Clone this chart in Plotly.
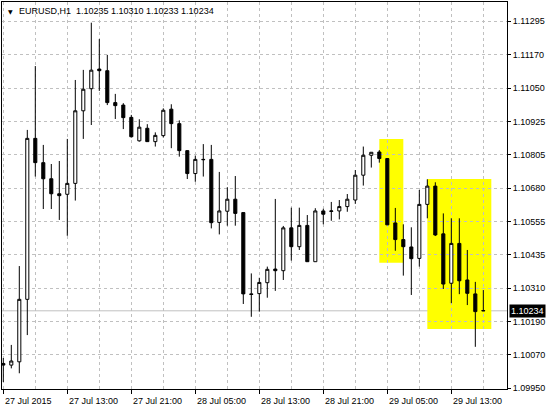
import plotly.graph_objects as go
import pandas as pd
import numpy as np

# ---------------- data ----------------
symbol_text = "EURUSD,H1"
start_time = "2015-07-27 05:00"

opens = [1.10041, 1.10035, 1.10047, 1.10276, 1.10866, 1.10777, 1.10718, 1.10663,
         1.10661, 1.10701, 1.10967, 1.11048, 1.11120, 1.11114, 1.10997, 1.10988,
         1.10943, 1.10857, 1.10903, 1.10854, 1.10876, 1.10973, 1.10920, 1.10821,
         1.10737, 1.10789, 1.10789, 1.10558, 1.10599, 1.10643, 1.10594, 1.10296,
         1.10297, 1.10337, 1.10387, 1.10381, 1.10538, 1.10469, 1.10547, 1.10414,
         1.10600, 1.10598, 1.10600, 1.10616, 1.10640, 1.10731, 1.10804, 1.10816,
         1.10792, 1.10556, 1.10495, 1.10468, 1.10426, 1.10624, 1.10691, 1.10516,
         1.10335, 1.10481, 1.10347, 1.10296, 1.10235]
highs = [1.10061, 1.10109, 1.10398, 1.10897, 1.11131, 1.10842, 1.10772, 1.10783,
         1.10864, 1.11080, 1.11117, 1.11290, 1.11230, 1.11172, 1.11029, 1.10995,
         1.10952, 1.10936, 1.10918, 1.10888, 1.10976, 1.10991, 1.10932, 1.10822,
         1.10803, 1.10845, 1.10842, 1.10743, 1.10687, 1.10728, 1.10594, 1.10371,
         1.10355, 1.10396, 1.10644, 1.10545, 1.10612, 1.10612, 1.10585, 1.10610,
         1.10608, 1.10633, 1.10640, 1.10662, 1.10750, 1.10836, 1.10815, 1.10823,
         1.10794, 1.10611, 1.10551, 1.10540, 1.10677, 1.10716, 1.10705, 1.10591,
         1.10573, 1.10573, 1.10457, 1.10340, 1.10310]
lows = [1.09973, 1.10023, 1.10005, 1.10145, 1.10726, 1.10607, 1.10607, 1.10567,
        1.10509, 1.10638, 1.10864, 1.10915, 1.11040, 1.10988, 1.10937, 1.10900,
        1.10869, 1.10854, 1.10854, 1.10836, 1.10869, 1.10830, 1.10799, 1.10717,
        1.10707, 1.10726, 1.10536, 1.10514, 1.10546, 1.10546, 1.10259, 1.10212,
        1.10231, 1.10282, 1.10307, 1.10347, 1.10418, 1.10457, 1.10414, 1.10414,
        1.10551, 1.10564, 1.10569, 1.10597, 1.10626, 1.10693, 1.10759, 1.10777,
        1.10549, 1.10454, 1.10363, 1.10292, 1.10396, 1.10573, 1.10508, 1.10314,
        1.10262, 1.10295, 1.10255, 1.10102, 1.10233]
closes = [1.10035, 1.10050, 1.10276, 1.10866, 1.10777, 1.10718, 1.10663, 1.10656,
          1.10701, 1.10967, 1.11046, 1.11116, 1.11114, 1.10997, 1.10986, 1.10942,
          1.10872, 1.10907, 1.10854, 1.10877, 1.10969, 1.10920, 1.10821, 1.10737,
          1.10789, 1.10788, 1.10557, 1.10600, 1.10643, 1.10591, 1.10296, 1.10294,
          1.10338, 1.10386, 1.10381, 1.10538, 1.10469, 1.10547, 1.10414, 1.10600,
          1.10588, 1.10600, 1.10616, 1.10643, 1.10731, 1.10804, 1.10815, 1.10792,
          1.10549, 1.10495, 1.10469, 1.10425, 1.10624, 1.10691, 1.10512, 1.10332,
          1.10481, 1.10344, 1.10298, 1.10231, 1.10234]

# highlighted zones (bar index from start, price bounds)
zone_start_bars = [47, 53]
zone_end_bars = [50, 61]
zone_lows = [1.10410, 1.10167]
zone_highs = [1.10864, 1.10717]

# axis labels
y_tick_labels = ["1.09950", "1.10070", "1.10190", "1.10310", "1.10435", "1.10555",
                 "1.10680", "1.10805", "1.10925", "1.11050", "1.11170", "1.11295"]
x_tick_labels = ["27 Jul 2015", "27 Jul 13:00", "27 Jul 21:00", "28 Jul 05:00",
                 "28 Jul 13:00", "28 Jul 21:00", "29 Jul 05:00", "29 Jul 13:00"]
label_step_hours = 8
grid_step_hours = 4

# ---------------- figure ----------------
t0 = pd.Timestamp(start_time)


def at(h):
    return t0 + pd.Timedelta(hours=h)


times = pd.date_range(start_time, periods=len(opens), freq="h")

FONT = "Liberation Sans, Arial, sans-serif"
GRID = "#c0c0c0"

fig = go.Figure(go.Candlestick(
    x=times, open=opens, high=highs, low=lows, close=closes,
    increasing=dict(line=dict(color="black", width=1), fillcolor="white"),
    decreasing=dict(line=dict(color="black", width=1), fillcolor="black"),
    whiskerwidth=0, hoverinfo="skip", showlegend=False,
))

shapes = []
for s, e, lo, hi in zip(zone_start_bars, zone_end_bars, zone_lows, zone_highs):
    shapes.append(dict(type="rect", xref="x", yref="y", x0=at(s), x1=at(e),
                       y0=lo, y1=hi, fillcolor="#ffff00", line=dict(width=0),
                       layer="below"))
shapes.append(dict(type="line", xref="paper", yref="y", x0=0, x1=1,
                   y0=closes[-1], y1=closes[-1], line=dict(color=GRID, width=1),
                   layer="between"))

label_times = [at(k * label_step_hours) for k in range(len(x_tick_labels))]
grid_times = [at(k * label_step_hours + grid_step_hours) for k in range(len(x_tick_labels))]

annotations = []
for tt, txt in zip(label_times, x_tick_labels):
    annotations.append(dict(x=tt, xref="x", y=0, yref="paper", yanchor="middle",
                            xanchor="left", yshift=-12, text=txt, showarrow=False,
                            font=dict(family=FONT, size=9, color="black")))
title_text = "%s  %.5f %.5f %.5f %.5f" % (symbol_text, opens[-1], highs[-1], lows[-1], closes[-1])
annotations.append(dict(x=0, xref="paper", y=1, yref="paper", xanchor="left",
                        yanchor="middle", xshift=15, yshift=-9, text=title_text,
                        showarrow=False, font=dict(family=FONT, size=9, color="black")))
annotations.append(dict(x=0, xref="paper", y=1, yref="paper", xanchor="center",
                        yanchor="middle", xshift=8, yshift=-9, text="▼",
                        showarrow=False, font=dict(family="DejaVu Sans", size=6, color="black")))
annotations.append(dict(x=1, xref="paper", y=closes[-1], yref="y", xanchor="left",
                        yanchor="middle", xshift=2, text="%.5f" % closes[-1],
                        showarrow=False, bgcolor="black", borderpad=1,
                        font=dict(family=FONT, size=9, color="white")))

y_tick_vals = list(np.linspace(float(y_tick_labels[0]), float(y_tick_labels[-1]), len(y_tick_labels)))

fig.update_layout(
    width=550, height=410,
    margin=dict(l=2, r=43, t=2, b=21),
    paper_bgcolor="white", plot_bgcolor="white",
    boxgap=0.45,
    font=dict(family=FONT, size=9, color="black"),
    shapes=shapes, annotations=annotations,
    hovermode=False,
    xaxis=dict(
        type="date", range=[at(-0.1625), at(62.96)],
        rangeslider=dict(visible=False),
        tickvals=label_times, showticklabels=False,
        ticks="outside", ticklen=4, tickcolor="black",
        showgrid=True, gridcolor=GRID, griddash="3px,3px", gridwidth=1,
        minor=dict(tickvals=grid_times, showgrid=True, gridcolor=GRID,
                   griddash="3px,3px", gridwidth=1, ticks=""),
        showline=True, mirror=True, linecolor="black", linewidth=1,
        zeroline=False, fixedrange=True,
    ),
    yaxis=dict(
        side="right", range=[1.099474, 1.113658],
        tickvals=y_tick_vals, ticktext=y_tick_labels,
        ticks="outside", ticklen=3, tickcolor="black",
        tickfont=dict(family=FONT, size=9, color="black"),
        showgrid=True, gridcolor=GRID, griddash="3px,3px", gridwidth=1,
        showline=True, mirror=True, linecolor="black", linewidth=1,
        zeroline=False, fixedrange=True,
    ),
)

fig.write_html("out.html", config={"displayModeBar": False, "staticPlot": True},
               post_script="document.body.style.margin='0px';document.body.style.overflow='hidden';")
